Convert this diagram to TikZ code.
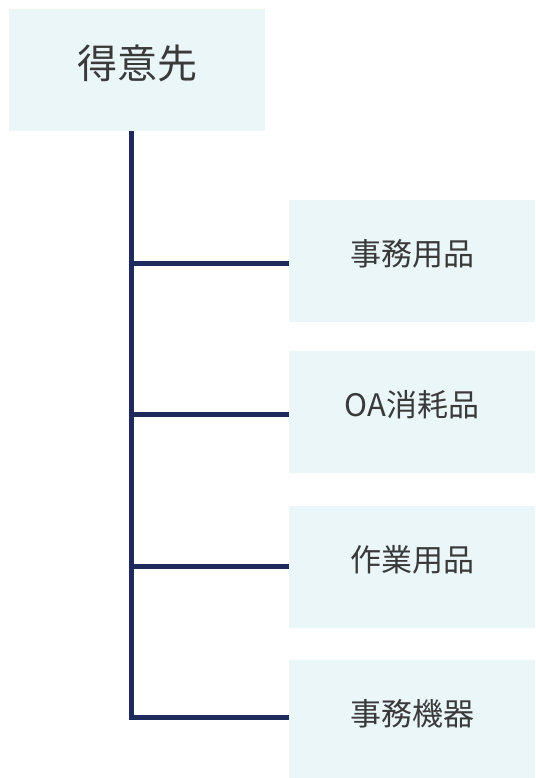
\documentclass[tikz,border=0pt]{standalone}
\usepackage{fontspec}
\setmainfont{Noto Sans CJK JP}
\usepackage{tikz}
\usetikzlibrary{positioning}
\definecolor{boxfill}{HTML}{EAF6F8}
\definecolor{navy}{HTML}{1F2A5C}
\definecolor{textgray}{HTML}{3A3A3A}
\newcommand{\lifttext}[2][18pt]{\raisebox{#1}{#2}}
\tikzset{%
    rootbox/.style={fill=boxfill, minimum width=256pt, minimum height=122pt,
        inner sep=0pt, text=textgray, font=\fontsize{40}{46}\selectfont},
    itembox/.style={fill=boxfill, minimum width=246pt, minimum height=122pt,
        inner sep=0pt, text=textgray, font=\fontsize{31}{36}\selectfont},
    branch/.style={draw=navy, line width=5pt}
}

\begin{document}
\begin{tikzpicture}[x=1pt,y=1pt]
\useasboundingbox (0,0) rectangle (535,-778);

\node[rootbox] (root) at (137,-70) {\lifttext[16pt]{得意先}};

\node[itembox] (jimu) at (412,-261) {\lifttext{事務用品}};
\node[itembox] (oa) at (412,-412) {\lifttext{OA消耗品}};
\node[itembox] (sagyo) at (412,-567) {\lifttext{作業用品}};
\node[itembox] (kiki) at (412,-721) {\lifttext{事務機器}};

\draw[branch] ([xshift=-6pt]root.south) |- ([yshift=-2.5pt]jimu.west);
\draw[branch] ([xshift=-6pt]root.south) |- ([yshift=-2pt]oa.west);
\draw[branch] ([xshift=-6pt]root.south) |- ([yshift=1pt]sagyo.west);
\draw[branch] ([xshift=-6pt]root.south) |- ([yshift=4pt]kiki.west);
\end{tikzpicture}
\end{document}
